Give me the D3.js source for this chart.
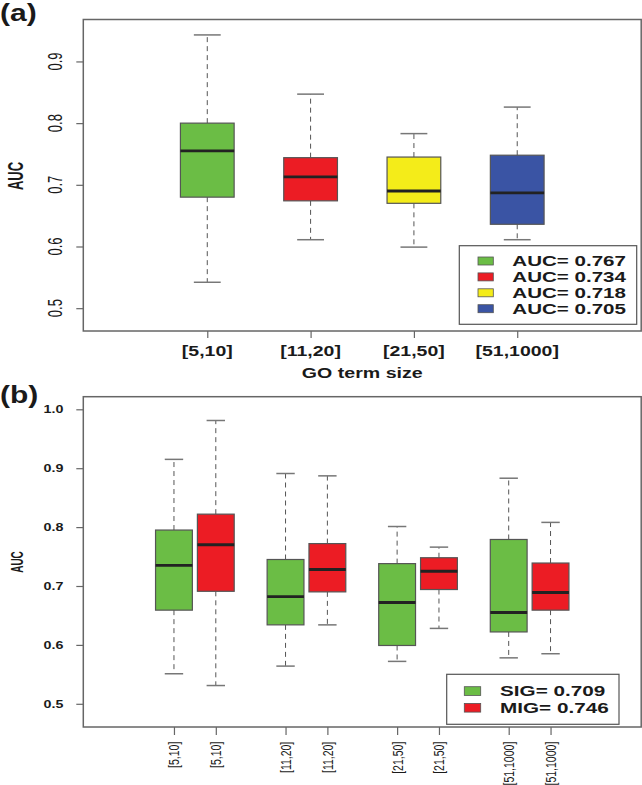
<!DOCTYPE html>
<html>
<head>
<meta charset="utf-8">
<script src="https://cdn.jsdelivr.net/npm/d3@7"></script>
<style>
  html, body { margin: 0; padding: 0; background: #fff; }
  svg { display: block; }
  text { font-family: "Liberation Sans", Arial, Helvetica, sans-serif; fill: #1a1a1a; }
</style>
</head>
<body>
<svg id="chart" width="642" height="785"></svg>
<script>
// ---------- Panel (a) data ----------
const sizeLabels = ["[5,10]", "[11,20]", "[21,50]", "[51,1000]"];
const aucLow  = [0.542, 0.611, 0.599, 0.611];
const aucQ1   = [0.680, 0.674, 0.670, 0.636];
const aucMed  = [0.755, 0.713, 0.690, 0.687];
const aucQ3   = [0.800, 0.744, 0.745, 0.748];
const aucHigh = [0.943, 0.847, 0.783, 0.826];
const legendA = ["AUC= 0.767", "AUC= 0.734", "AUC= 0.718", "AUC= 0.705"];
const colorsA = ["#6bbd45", "#ec1c24", "#f4ec19", "#3a54a4"];
const yTicksA = [0.5, 0.6, 0.7, 0.8, 0.9];

// ---------- Panel (b) data ----------
const sigLow  = [0.551, 0.564, 0.572, 0.578];
const sigQ1   = [0.659, 0.634, 0.599, 0.622];
const sigMed  = [0.735, 0.682, 0.672, 0.655];
const sigQ3   = [0.795, 0.745, 0.738, 0.779];
const sigHigh = [0.915, 0.891, 0.801, 0.883];
const migLow  = [0.531, 0.634, 0.628, 0.585];
const migQ1   = [0.691, 0.690, 0.694, 0.659];
const migMed  = [0.770, 0.728, 0.725, 0.689];
const migQ3   = [0.822, 0.772, 0.748, 0.739];
const migHigh = [0.981, 0.887, 0.766, 0.808];
const legendB = ["SIG= 0.709", "MIG= 0.746"];
const colorsB = ["#6bbd45", "#ec1c24"];
const yTicksB = [0.5, 0.6, 0.7, 0.8, 0.9, 1.0];

const svg = d3.select("#chart");

function stext(g, x, y, str, o) {
  const sx = o.sx || 1, rot = o.rot || 0;
  return g.append("text")
    .attr("transform", `translate(${x},${y}) scale(${sx},1) rotate(${rot})`)
    .attr("text-anchor", o.anchor || "start")
    .attr("font-size", o.size)
    .attr("font-weight", o.weight || "normal")
    .text(str);
}

function drawBox(g, x, y, w, d, color) {
  const capW = w / 2;
  g.append("line").attr("x1", x).attr("x2", x).attr("y1", y(d.q3)).attr("y2", y(d.high))
    .attr("stroke", "#555").attr("stroke-width", 1).attr("stroke-dasharray", "5,4");
  g.append("line").attr("x1", x).attr("x2", x).attr("y1", y(d.q1)).attr("y2", y(d.low))
    .attr("stroke", "#555").attr("stroke-width", 1).attr("stroke-dasharray", "5,4");
  [d.high, d.low].forEach(v => {
    g.append("line").attr("x1", x - capW / 2).attr("x2", x + capW / 2)
      .attr("y1", y(v)).attr("y2", y(v)).attr("stroke", "#777").attr("stroke-width", 1.5);
  });
  g.append("rect").attr("x", x - w / 2).attr("y", y(d.q3)).attr("width", w)
    .attr("height", y(d.q1) - y(d.q3)).attr("fill", color)
    .attr("stroke", "#555").attr("stroke-width", 1.2);
  g.append("line").attr("x1", x - w / 2).attr("x2", x + w / 2)
    .attr("y1", y(d.med)).attr("y2", y(d.med)).attr("stroke", "#222").attr("stroke-width", 2.8);
}

// ================= Panel (a) =================
const gA = svg.append("g");
const xA = d3.scaleLinear().domain([-0.2, 5.2]).range([83.3, 641.2]);
const yA = d3.scaleLinear().domain([0.463, 0.968]).range([331, 19.5]);

stext(gA, 0, 21, "(a)", { size: 24, weight: "bold", sx: 1.25 });

const axAy = gA.append("g").attr("transform", `translate(${xA.range()[0]},0)`)
  .call(d3.axisLeft(yA).tickValues(yTicksA).tickSize(7).tickFormat(""));
axAy.select(".domain").remove();
axAy.selectAll("line").attr("stroke", "#666").attr("stroke-width", 1.2);
yTicksA.forEach(t => stext(gA, 61.7, yA(t), d3.format(".1f")(t),
  { size: 13, sx: 1.6, rot: -90, anchor: "middle" }));
stext(gA, 23, 176, "AUC", { size: 13, sx: 1.65, rot: -90, anchor: "middle", weight: "bold" });

const axAx = gA.append("g").attr("transform", `translate(0,${yA.range()[0]})`)
  .call(d3.axisBottom(xA).tickValues([1, 2, 3, 4]).tickSize(7).tickFormat(""));
axAx.select(".domain").remove();
axAx.selectAll("line").attr("stroke", "#666").attr("stroke-width", 1.2);
sizeLabels.forEach((s, i) => stext(gA, xA(i + 1), 355.5, s,
  { size: 15, sx: 1.3, anchor: "middle", weight: "bold" }));
stext(gA, (xA.range()[0] + xA.range()[1]) / 2, 378, "GO term size",
  { size: 14, sx: 1.4, anchor: "middle", weight: "bold" });

sizeLabels.forEach((s, i) => {
  drawBox(gA, xA(i + 1), yA, xA(0.52) - xA(0),
    { low: aucLow[i], q1: aucQ1[i], med: aucMed[i], q3: aucQ3[i], high: aucHigh[i] }, colorsA[i]);
});

gA.append("rect").attr("x", xA.range()[0]).attr("y", yA.range()[1])
  .attr("width", xA.range()[1] - xA.range()[0]).attr("height", yA.range()[0] - yA.range()[1])
  .attr("fill", "none").attr("stroke", "#666").attr("stroke-width", 1.5);

gA.append("rect").attr("x", 459.3).attr("y", 245.7).attr("width", 177.4).attr("height", 78.6)
  .attr("fill", "#fff").attr("stroke", "#555").attr("stroke-width", 1.2);
legendA.forEach((s, i) => {
  const cy = 261 + i * 15.9;
  gA.append("rect").attr("x", 478).attr("y", cy - 4).attr("width", 15.3).attr("height", 8)
    .attr("fill", colorsA[i]).attr("stroke", "#555").attr("stroke-width", 0.8);
  stext(gA, 512.3, cy + 5.3, s, { size: 15, sx: 1.37, weight: "bold" });
});

// ================= Panel (b) =================
const gB = svg.append("g");
const xB = d3.scaleLinear().domain([0, 5]).range([83.3, 641.2]);
const yB = d3.scaleLinear().domain([0.4606, 1.0214]).range([727, 396.7]);
const off = 0.1875, bw = 0.33;

stext(gB, 0, 403, "(b)", { size: 24, weight: "bold", sx: 1.25 });

const axBy = gB.append("g").attr("transform", `translate(${xB.range()[0]},0)`)
  .call(d3.axisLeft(yB).tickValues(yTicksB).tickSize(7).tickFormat(""));
axBy.select(".domain").remove();
axBy.selectAll("line").attr("stroke", "#666").attr("stroke-width", 1.2);
yTicksB.forEach(t => stext(gB, 63.5, yB(t) + 4, d3.format(".1f")(t),
  { size: 11, sx: 1.3, anchor: "end", weight: "bold" }));
stext(gB, 23.3, 562, "AUC", { size: 10, sx: 1.65, rot: -90, anchor: "middle", weight: "bold" });

const posB = [];
sizeLabels.forEach((s, i) => { posB.push(i + 1 - off); posB.push(i + 1 + off); });
const axBx = gB.append("g").attr("transform", `translate(0,${yB.range()[0]})`)
  .call(d3.axisBottom(xB).tickValues(posB).tickSize(8).tickFormat(""));
axBx.select(".domain").remove();
axBx.selectAll("line").attr("stroke", "#666").attr("stroke-width", 1.2);
posB.forEach((p, j) => stext(gB, xB(p) + 5.5, 741.7, sizeLabels[Math.floor(j / 2)],
  { size: 10.5, sx: 1.35, rot: -90, anchor: "end" }));

sizeLabels.forEach((s, i) => {
  const w = xB(bw) - xB(0);
  drawBox(gB, xB(i + 1 - off), yB, w,
    { low: sigLow[i], q1: sigQ1[i], med: sigMed[i], q3: sigQ3[i], high: sigHigh[i] }, colorsB[0]);
  drawBox(gB, xB(i + 1 + off), yB, w,
    { low: migLow[i], q1: migQ1[i], med: migMed[i], q3: migQ3[i], high: migHigh[i] }, colorsB[1]);
});

gB.append("rect").attr("x", xB.range()[0]).attr("y", yB.range()[1])
  .attr("width", xB.range()[1] - xB.range()[0]).attr("height", yB.range()[0] - yB.range()[1])
  .attr("fill", "none").attr("stroke", "#666").attr("stroke-width", 1.5);

gB.append("rect").attr("x", 446.7).attr("y", 674.3).attr("width", 172.3).attr("height", 50)
  .attr("fill", "#fff").attr("stroke", "#555").attr("stroke-width", 1.2);
legendB.forEach((s, i) => {
  const cy = 691 + i * 16.7;
  gB.append("rect").attr("x", 464.3).attr("y", cy - 4.3).attr("width", 16.4).attr("height", 8.7)
    .attr("fill", colorsB[i]).attr("stroke", "#555").attr("stroke-width", 0.8);
  stext(gB, 500, cy + 5.3, s, { size: 15, sx: 1.38, weight: "bold" });
});
</script>
</body>
</html>
